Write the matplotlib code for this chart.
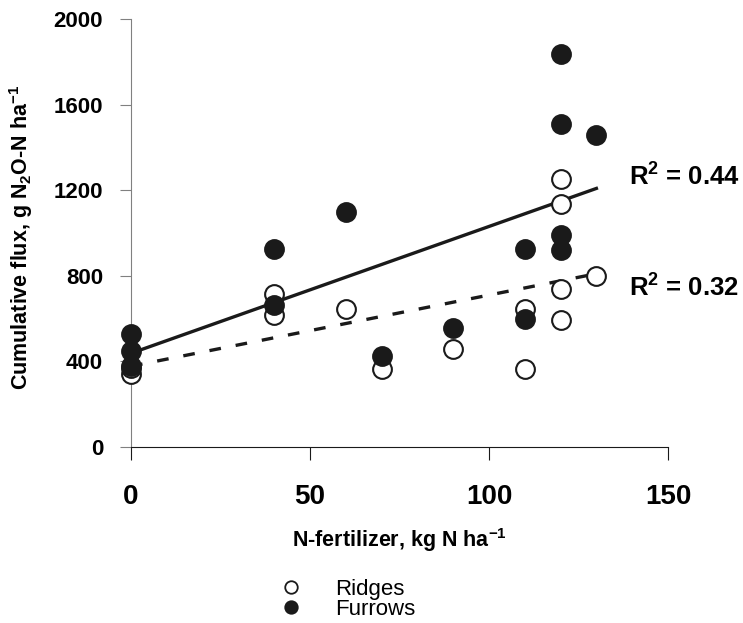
import numpy as np
import matplotlib.pyplot as plt
from matplotlib.lines import Line2D

plt.rcParams['font.family'] = ['Liberation Sans', 'DejaVu Sans']
plt.rcParams['mathtext.fontset'] = 'custom'
plt.rcParams['mathtext.bf'] = 'Liberation Sans:bold'
plt.rcParams['mathtext.rm'] = 'Liberation Sans:bold'
plt.rcParams['mathtext.default'] = 'bf'

# Ridges (open circles)
ridges_x = [0, 0, 40, 40, 60, 70, 90, 110, 110, 120, 120, 120, 120, 130]
ridges_y = [340, 370, 714, 616, 647, 363, 460, 647, 363, 1252, 1135, 739, 595, 801]

# Furrows (filled circles)
furrows_x = [0, 0, 0, 40, 40, 60, 70, 90, 110, 110, 120, 120, 120, 120, 130]
furrows_y = [530, 450, 380, 927, 662, 1097, 424, 558, 927, 600, 1835, 1510, 990, 920, 1456]

r2_labels = ['R$^2$ = 0.44', 'R$^2$ = 0.32']
x_ticks = [0, 50, 100, 150]
y_ticks = [0, 400, 800, 1200, 1600, 2000]

fig = plt.figure(figsize=(7.43, 6.23), dpi=100)
ax = fig.add_axes([131 / 743, 1 - 447 / 623, 537 / 743, 428 / 623])

# linear trend lines
xs = np.array([0, 130])
pf = np.polyfit(furrows_x, furrows_y, 1)
pr = np.polyfit(ridges_x, ridges_y, 1)
ax.plot(xs, np.polyval(pf, xs), color='#1a1a1a', lw=2.4, zorder=2)
ax.plot(xs, np.polyval(pr, xs), color='#1a1a1a', lw=2.4, ls=(0, (3.5, 4.5)), zorder=2)

ax.plot(ridges_x, ridges_y, 'o', ms=13.5, mfc='white', mec='#1a1a1a', mew=1.5,
        ls='none', clip_on=False, zorder=3)
ax.plot(furrows_x, furrows_y, 'o', ms=13.5, mfc='#1a1a1a', mec='#1a1a1a', mew=1.5,
        ls='none', clip_on=False, zorder=4)

ax.text(139, 1263, r2_labels[0], fontsize=18.5, fontweight='bold', va='center', ha='left')
ax.text(139, 745, r2_labels[1], fontsize=18.5, fontweight='bold', va='center', ha='left')

ax.set_xlim(0, 150)
ax.set_ylim(0, 2000)
ax.set_xticks(x_ticks)
ax.set_yticks(y_ticks)
for s in ['top', 'right']:
    ax.spines[s].set_visible(False)
ax.spines['left'].set_color('#808080')
ax.spines['bottom'].set_color('#1a1a1a')
ax.tick_params(axis='y', direction='out', length=8, color='#808080', pad=12,
               labelsize=16)
ax.tick_params(axis='x', direction='out', length=9, color='#1a1a1a', pad=18,
               labelsize=20)
for lab in ax.get_xticklabels() + ax.get_yticklabels():
    lab.set_fontweight('bold')

ax.set_ylabel('Cumulative flux, g N$_2$O-N ha$^{-1}$', fontsize=15.5, fontweight='bold')
ax.yaxis.set_label_coords(-0.178, 0.49)
ax.set_xlabel('N-fertilizer, kg N ha$^{-1}$', fontsize=15.5, fontweight='bold')
ax.xaxis.set_label_coords(0.5, -0.185)

handles = [Line2D([], [], marker='o', ls='none', ms=9, mfc='white', mec='#1a1a1a', mew=1.3),
           Line2D([], [], marker='o', ls='none', ms=9, mfc='#1a1a1a', mec='#1a1a1a', mew=1.3)]
fig.legend(handles, ['Ridges', 'Furrows'], loc='upper left',
           bbox_to_anchor=(282 / 743, 1 - 579 / 623), frameon=False, fontsize=16,
           labelspacing=-0.05, handletextpad=1.6, handlelength=0.8, borderpad=0,
           borderaxespad=0)

fig.savefig('out.png', dpi=100)
